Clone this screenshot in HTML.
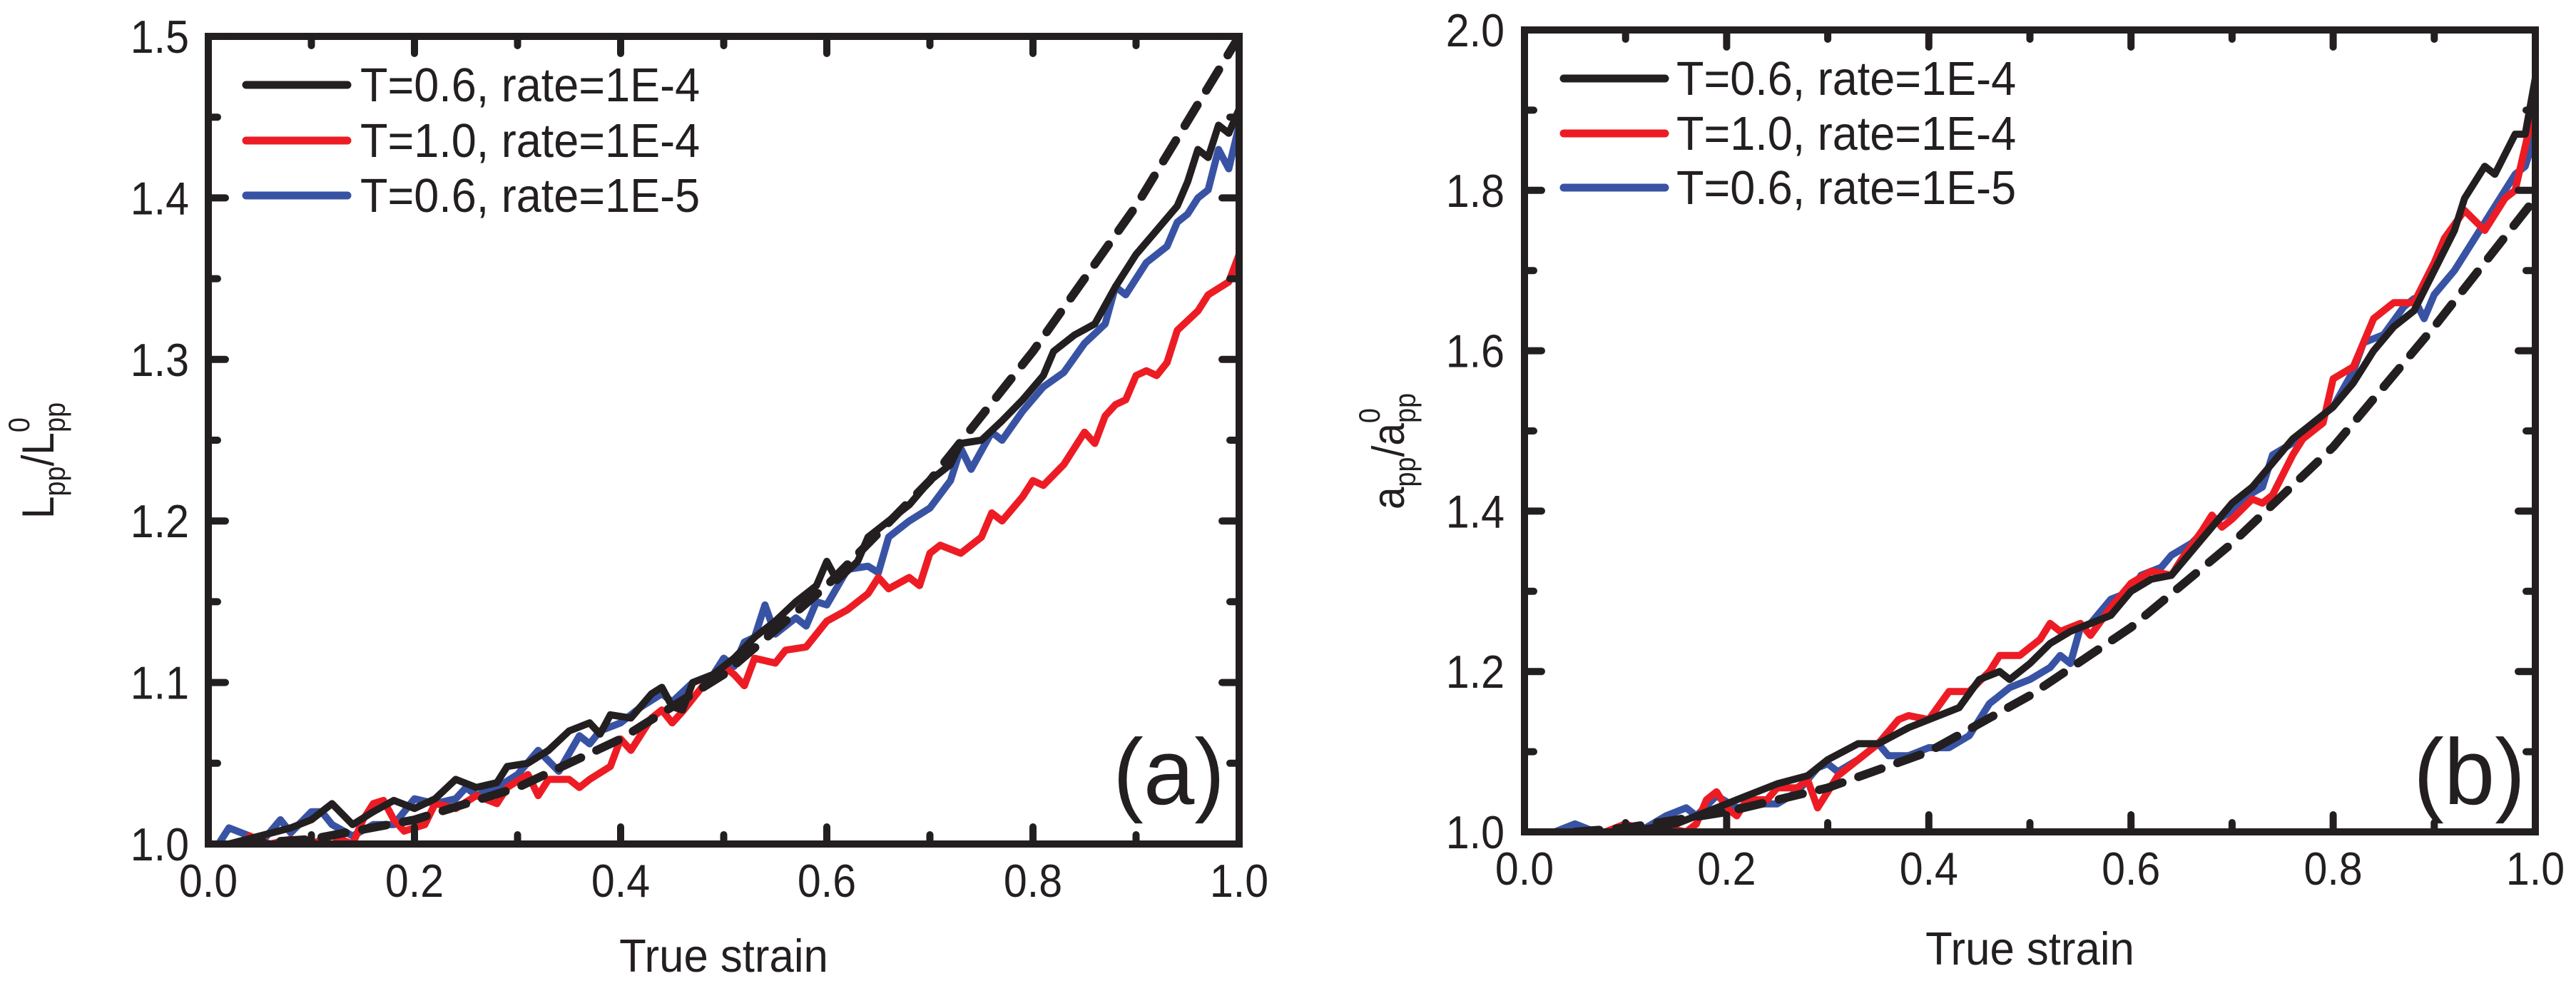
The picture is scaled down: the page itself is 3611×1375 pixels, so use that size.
<!DOCTYPE html>
<html><head><meta charset="utf-8"><style>
html,body{margin:0;padding:0;background:#fff}
svg{display:block}
text{font-family:"Liberation Sans",Arial,sans-serif;fill:#231f20}
</style></head><body>
<svg id="fig" width="3611" height="1375" viewBox="0 0 3611 1375" xmlns="http://www.w3.org/2000/svg"></svg>
<script>
// ---- Panel (a) data ----
const aDashX=[0.03,0.1,0.2,0.3,0.4,0.5,0.6,0.7,0.8,0.9,1.0];
const aDashY=[1.0,1.003,1.015,1.035,1.065,1.105,1.16,1.225,1.305,1.395,1.5];
const aBlackX=[0.02,0.05,0.08,0.1,0.12,0.14,0.16,0.18,0.2,0.22,0.24,0.26,0.28,0.29,0.31,0.33,0.35,0.37,0.38,0.39,0.41,0.43,0.44,0.45,0.46,0.47,0.49,0.51,0.53,0.55,0.57,0.59,0.6,0.61,0.63,0.64,0.66,0.68,0.7,0.72,0.73,0.75,0.77,0.79,0.81,0.82,0.84,0.86,0.88,0.9,0.92,0.94,0.95,0.96,0.97,0.98,0.99,1.0];
const aBlackY=[1.0,1.005,1.01,1.015,1.025,1.012,1.02,1.027,1.022,1.028,1.04,1.035,1.038,1.048,1.05,1.058,1.07,1.075,1.068,1.08,1.078,1.093,1.097,1.085,1.083,1.1,1.105,1.115,1.128,1.138,1.15,1.16,1.175,1.163,1.175,1.19,1.2,1.21,1.225,1.235,1.248,1.25,1.262,1.275,1.29,1.305,1.315,1.322,1.345,1.365,1.38,1.395,1.41,1.43,1.425,1.445,1.44,1.455];
const aRedX=[0.04,0.06,0.08,0.1,0.12,0.14,0.15,0.16,0.17,0.18,0.19,0.21,0.22,0.24,0.26,0.28,0.29,0.31,0.32,0.33,0.35,0.36,0.37,0.39,0.4,0.41,0.43,0.44,0.45,0.46,0.48,0.5,0.51,0.52,0.53,0.55,0.56,0.58,0.6,0.62,0.64,0.65,0.66,0.68,0.69,0.7,0.71,0.73,0.75,0.76,0.77,0.79,0.8,0.81,0.83,0.85,0.86,0.87,0.88,0.89,0.9,0.91,0.92,0.93,0.94,0.96,0.97,0.99,1.0];
const aRedY=[1.005,1.0,1.003,1.0,1.005,1.0,1.015,1.025,1.027,1.015,1.008,1.012,1.025,1.022,1.03,1.025,1.035,1.043,1.03,1.04,1.04,1.035,1.04,1.048,1.065,1.058,1.078,1.083,1.075,1.082,1.098,1.11,1.105,1.098,1.115,1.112,1.12,1.122,1.138,1.145,1.155,1.165,1.158,1.165,1.16,1.18,1.185,1.18,1.19,1.205,1.2,1.215,1.225,1.222,1.235,1.255,1.248,1.265,1.272,1.275,1.29,1.293,1.29,1.298,1.318,1.33,1.34,1.348,1.365];
const aBlueX=[0.01,0.02,0.04,0.05,0.07,0.08,0.1,0.11,0.12,0.14,0.16,0.18,0.2,0.22,0.24,0.25,0.26,0.28,0.3,0.32,0.34,0.36,0.37,0.38,0.4,0.42,0.44,0.45,0.47,0.49,0.5,0.51,0.52,0.53,0.54,0.55,0.57,0.58,0.59,0.6,0.62,0.64,0.65,0.66,0.68,0.7,0.72,0.73,0.74,0.76,0.77,0.79,0.81,0.83,0.85,0.87,0.88,0.89,0.91,0.93,0.94,0.95,0.96,0.97,0.98,0.99,1.0];
const aBlueY=[1.0,1.01,1.005,1.0,1.015,1.007,1.02,1.02,1.012,1.005,1.012,1.012,1.028,1.025,1.028,1.035,1.03,1.035,1.043,1.058,1.045,1.067,1.062,1.07,1.075,1.085,1.093,1.088,1.1,1.105,1.115,1.11,1.125,1.128,1.148,1.13,1.14,1.135,1.15,1.148,1.17,1.172,1.168,1.19,1.2,1.208,1.225,1.245,1.232,1.255,1.25,1.268,1.283,1.292,1.31,1.322,1.345,1.34,1.36,1.37,1.385,1.39,1.4,1.405,1.43,1.418,1.445];
const aYTicks=[1.0,1.1,1.2,1.3,1.4,1.5];
const aYTickLabels=["1.0","1.1","1.2","1.3","1.4","1.5"];
// ---- Panel (b) data ----
const bDashX=[0.05,0.1,0.2,0.3,0.4,0.5,0.6,0.7,0.8,0.9,1.0];
const bDashY=[1.0,1.005,1.025,1.055,1.1,1.17,1.255,1.36,1.48,1.63,1.79];
const bBlackX=[0.03,0.1,0.15,0.18,0.2,0.22,0.25,0.28,0.3,0.33,0.35,0.38,0.4,0.43,0.45,0.47,0.48,0.5,0.52,0.54,0.56,0.58,0.6,0.62,0.64,0.66,0.68,0.7,0.72,0.74,0.76,0.78,0.8,0.82,0.84,0.86,0.88,0.9,0.92,0.93,0.95,0.96,0.98,0.99,1.0];
const bBlackY=[1.0,1.0,1.01,1.025,1.035,1.045,1.06,1.07,1.09,1.11,1.11,1.13,1.14,1.155,1.19,1.2,1.19,1.21,1.235,1.25,1.26,1.27,1.3,1.315,1.32,1.35,1.38,1.41,1.43,1.46,1.49,1.51,1.53,1.56,1.6,1.63,1.65,1.7,1.75,1.79,1.83,1.82,1.87,1.87,1.94];
const bRedX=[0.08,0.1,0.12,0.14,0.16,0.17,0.18,0.19,0.2,0.21,0.22,0.24,0.25,0.27,0.28,0.29,0.31,0.33,0.35,0.37,0.38,0.4,0.42,0.44,0.46,0.47,0.49,0.51,0.52,0.53,0.55,0.56,0.58,0.6,0.62,0.64,0.65,0.67,0.68,0.69,0.7,0.72,0.73,0.74,0.76,0.77,0.79,0.8,0.82,0.84,0.86,0.88,0.9,0.91,0.93,0.95,0.97,0.98,1.0];
const bRedY=[1.0,1.01,1.0,1.005,1.0,1.01,1.04,1.05,1.03,1.02,1.04,1.04,1.055,1.055,1.065,1.03,1.07,1.09,1.11,1.14,1.145,1.14,1.175,1.175,1.2,1.22,1.22,1.24,1.26,1.25,1.26,1.245,1.28,1.31,1.325,1.32,1.34,1.375,1.395,1.38,1.39,1.415,1.41,1.42,1.47,1.49,1.51,1.565,1.58,1.64,1.66,1.66,1.71,1.74,1.775,1.75,1.79,1.8,1.91];
const bBlueX=[0.03,0.05,0.07,0.1,0.12,0.14,0.15,0.16,0.17,0.19,0.21,0.23,0.25,0.27,0.29,0.3,0.31,0.33,0.35,0.36,0.38,0.4,0.42,0.44,0.46,0.48,0.5,0.52,0.53,0.54,0.55,0.56,0.58,0.6,0.61,0.63,0.64,0.66,0.68,0.7,0.71,0.73,0.74,0.76,0.78,0.8,0.82,0.83,0.85,0.87,0.88,0.89,0.9,0.92,0.94,0.96,0.98,0.99,1.0];
const bBlueY=[1.0,1.01,1.0,1.0,1.005,1.02,1.025,1.03,1.02,1.045,1.03,1.035,1.035,1.05,1.08,1.085,1.075,1.09,1.11,1.095,1.095,1.105,1.105,1.12,1.16,1.18,1.19,1.205,1.22,1.21,1.255,1.26,1.29,1.3,1.32,1.33,1.345,1.36,1.385,1.4,1.415,1.43,1.47,1.485,1.51,1.53,1.575,1.61,1.62,1.655,1.665,1.64,1.67,1.7,1.74,1.78,1.82,1.83,1.87];
const bYTicks=[1.0,1.2,1.4,1.6,1.8,2.0];
const bYTickLabels=["1.0","1.2","1.4","1.6","1.8","2.0"];
const xTicks=[0,0.2,0.4,0.6,0.8,1.0];
const xTickLabels=["0.0","0.2","0.4","0.6","0.8","1.0"];
const legendLabels=["T=0.6, rate=1E-4","T=1.0, rate=1E-4","T=0.6, rate=1E-5"];
const colors=["#231f20","#ed1c24","#3953a4"];

const NS="http://www.w3.org/2000/svg";
const svg=document.getElementById('fig');
function mk(tag,attrs,parent){const e=document.createElementNS(NS,tag);for(const k in attrs)e.setAttribute(k,attrs[k]);(parent||svg).appendChild(e);return e;}
function txt(parent,x,y,s,size,anchor,sx){
  const t=mk('text',{transform:`translate(${x},${y}) scale(${sx||0.91},1)`,'font-size':size,'text-anchor':anchor||'start'},parent);
  t.textContent=s;return t;
}

function panel(cfg){
  const g=mk('g',{});
  
  
  const L=cfg.L,R=cfg.R,T=cfg.T,B=cfg.B;
  const sx=v=>L+(v-0)/(1-0)*(R-L);
  const sy=v=>B-(v-cfg.ymin)/(cfg.ymax-cfg.ymin)*(B-T);
  const clip=mk('clipPath',{id:cfg.name+'-clip'},g);
  mk('rect',{x:L,y:T,width:R-L,height:B-T},clip);
  const sg=mk('g',{'clip-path':`url(#${cfg.name}-clip)`},g);
  function line(xs,ys,color,dash,name){
    const d=xs.map((x,i)=>(i?'L':'M')+sx(x).toFixed(1)+','+sy(ys[i]).toFixed(1)).join(' ');
    const p=mk('path',{d:d,fill:'none',stroke:color,'stroke-width':dash?12:10,'stroke-linejoin':'round','stroke-linecap':'round'},sg);
    if(dash)p.setAttribute('stroke-dasharray','34 24');
    
    
  }
  line(cfg.blueX,cfg.blueY,colors[2],false,'series-t06-rate1e-5');
  line(cfg.redX,cfg.redY,colors[1],false,'series-t10-rate1e-4');
  line(cfg.blackX,cfg.blackY,colors[0],false,'series-t06-rate1e-4');
  line(cfg.dashX,cfg.dashY,colors[0],true,'dashed-fit-curve');
  const fr=mk('rect',{x:L,y:T,width:R-L,height:B-T,fill:'none',stroke:'#231f20','stroke-width':10},g);
  
  
  for(let i=0;i<xTicks.length;i++){
    const x=sx(xTicks[i]);
    mk('line',{x1:x,y1:B,x2:x,y2:B-24,stroke:'#231f20','stroke-width':10,'stroke-linecap':'round'},g);
    mk('line',{x1:x,y1:T,x2:x,y2:T+24,stroke:'#231f20','stroke-width':10,'stroke-linecap':'round'},g);
    const t=txt(g,x,cfg.xLabBase,xTickLabels[i],65,'middle');
    
    
    if(i<xTicks.length-1){
      const xm=sx((xTicks[i]+xTicks[i+1])/2);
      mk('line',{x1:xm,y1:B,x2:xm,y2:B-13,stroke:'#231f20','stroke-width':10,'stroke-linecap':'round'},g);
      mk('line',{x1:xm,y1:T,x2:xm,y2:T+13,stroke:'#231f20','stroke-width':10,'stroke-linecap':'round'},g);
    }
  }
  for(let i=0;i<cfg.yTicks.length;i++){
    const y=sy(cfg.yTicks[i]);
    mk('line',{x1:L,y1:y,x2:L+24,y2:y,stroke:'#231f20','stroke-width':10,'stroke-linecap':'round'},g);
    mk('line',{x1:R,y1:y,x2:R-24,y2:y,stroke:'#231f20','stroke-width':10,'stroke-linecap':'round'},g);
    const t=txt(g,cfg.yLabRight,y+23,cfg.yLabels[i],65,'end');
    
    
    if(i<cfg.yTicks.length-1){
      const ym=sy((cfg.yTicks[i]+cfg.yTicks[i+1])/2);
      mk('line',{x1:L,y1:ym,x2:L+13,y2:ym,stroke:'#231f20','stroke-width':10,'stroke-linecap':'round'},g);
      mk('line',{x1:R,y1:ym,x2:R-13,y2:ym,stroke:'#231f20','stroke-width':10,'stroke-linecap':'round'},g);
    }
  }
  const lg=mk('g',{},g);
  
  
  for(let i=0;i<3;i++){
    const y=cfg.legY[i];
    const e=mk('g',{},lg);
    
    
    mk('line',{x1:cfg.legX1,y1:y,x2:cfg.legX2,y2:y,stroke:colors[i],'stroke-width':11,'stroke-linecap':'round'},e);
    txt(e,cfg.legText,y+23,legendLabels[i],67,'start',0.94);
  }
  const xt=txt(g,(L+R)/2,cfg.xTitleBase,'True strain',65,'middle',0.95);
  
  
  const yt=mk('text',{transform:`translate(${cfg.yTitleX},${cfg.yTitleY}) rotate(-90) scale(0.9,1)`,'font-size':63,'text-anchor':'start'},g);
  
  
  yt.innerHTML=`${cfg.sym}<tspan font-size="42" dy="16">pp</tspan><tspan dy="-16">/${cfg.sym}</tspan><tspan font-size="42" dy="-34">0</tspan><tspan font-size="42" dx="-23" dy="50">pp</tspan>`;
  const pl=txt(g,cfg.plX,cfg.plY,cfg.panelLabel,131,'end',0.98);
  
  
}

panel({name:'panel-a',L:292,R:1737,T:51,B:1183,ymin:1.0,ymax:1.5,
  dashX:aDashX,dashY:aDashY,blackX:aBlackX,blackY:aBlackY,redX:aRedX,redY:aRedY,blueX:aBlueX,blueY:aBlueY,
  yTicks:aYTicks,yLabels:aYTickLabels,xLabBase:1257,yLabRight:265,
  legY:[119,197,274],legX1:345,legX2:487,legText:505,
  xTitleBase:1362,yTitleX:75,yTitleY:727,sym:'L',panelLabel:'(a)',plX:1717,plY:1127});
panel({name:'panel-b',L:2137,R:3554,T:42,B:1166,ymin:1.0,ymax:2.0,
  dashX:bDashX,dashY:bDashY,blackX:bBlackX,blackY:bBlackY,redX:bRedX,redY:bRedY,blueX:bBlueX,blueY:bBlueY,
  yTicks:bYTicks,yLabels:bYTickLabels,xLabBase:1240,yLabRight:2109,
  legY:[110,187,263],legX1:2192,legX2:2334,legText:2350,
  xTitleBase:1352,yTitleX:1968,yTitleY:714,sym:'a',panelLabel:'(b)',plX:3540,plY:1127});
</script>
</body></html>
